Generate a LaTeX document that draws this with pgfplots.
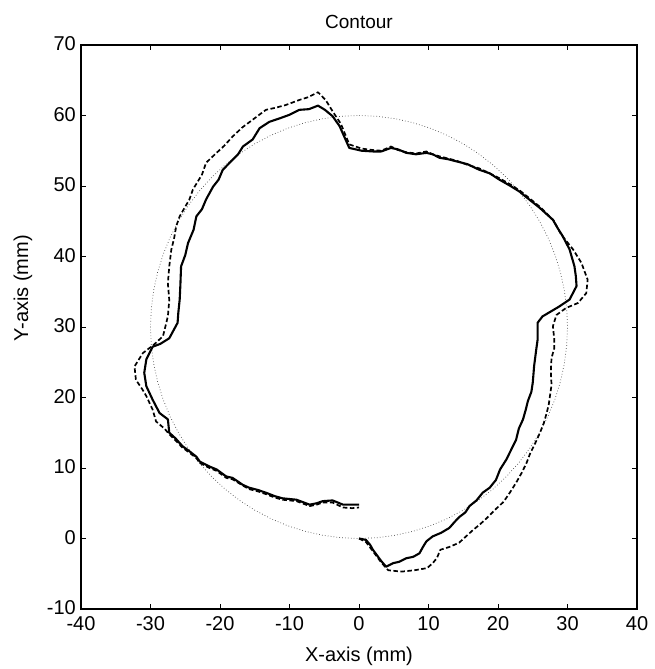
\documentclass[border=0pt]{standalone}
\usepackage{pgfplots}
\pgfplotsset{compat=1.18}
\usepackage{fontspec}
\setmainfont{Liberation Sans}

% measured contour (solid) 
\pgfplotstableread{
x y
0 0
1.0 -0.2
1.6 -0.9
2.0 -1.6
2.6 -2.4
3.2 -3.2
3.9 -4.0
4.9 -3.5
5.8 -3.3
6.8 -2.8
7.8 -2.6
8.7 -2.1
9.2 -1.2
9.7 -0.4
10.6 0.3
11.8 0.8
13.0 1.5
13.8 2.4
14.5 3.1
15.3 3.7
15.9 4.6
16.9 5.4
17.8 6.5
18.8 7.2
19.7 8.3
20.3 9.8
21.2 11.2
21.8 12.4
22.6 14.0
23.0 15.6
23.6 16.9
24.0 18.3
24.3 19.5
24.8 20.8
25.0 22.1
25.2 24.5
25.5 26.8
25.7 28.2
25.7 30.6
26.4 31.5
27.6 32.2
28.8 32.9
30.3 33.9
31.3 35.8
31.2 37.2
31.0 38.6
30.3 41.0
29.3 42.9
28.6 44.0
27.9 45.2
26.0 46.9
24.6 48.0
23.1 49.2
21.8 50.0
20.2 50.9
18.8 51.8
17.3 52.3
15.6 53.1
14.0 53.5
12.8 53.8
11.6 54.0
10.6 54.5
9.7 54.7
8.2 54.5
6.8 54.7
5.6 55.2
4.6 55.4
3.2 54.9
2.0 54.9
0.4 55.0
-1.4 55.4
-2.8 58.5
-3.8 59.9
-4.9 60.8
-5.9 61.4
-7.2 60.9
-8.6 60.8
-10.0 60.1
-11.4 59.6
-12.9 59.1
-14.3 58.2
-15.3 56.6
-16.7 55.6
-17.4 54.5
-18.2 53.7
-19.6 52.3
-20.2 50.9
-21.0 49.9
-22.0 48.1
-22.6 46.7
-23.4 45.7
-23.8 43.8
-24.6 41.9
-25.0 40.2
-25.6 38.6
-25.7 36.0
-25.8 33.9
-26.0 32.0
-26.1 30.6
-27.3 28.4
-28.6 27.6
-29.7 27.2
-30.6 25.4
-30.9 23.5
-30.6 21.6
-29.7 19.7
-28.7 17.8
-27.5 16.9
-27.3 15.0
-26.4 14.2
-25.4 13.1
-24.3 12.3
-23.4 11.6
-22.9 10.9
-21.5 10.2
-20.5 9.8
-19.1 8.8
-18.2 8.6
-16.7 7.6
-15.8 7.2
-14.6 6.9
-13.4 6.5
-12.1 6.0
-11.0 5.7
-9.0 5.5
-7.1 4.8
-6.1 5.0
-5.2 5.3
-3.8 5.4
-2.3 4.8
-1.0 4.8
0 4.8
}\solid

% measured contour (dashed)
\pgfplotstableread{
x y
0 0
1.0 -0.5
2.0 -1.8
3.2 -3.4
4.2 -4.5
6.1 -4.7
8.0 -4.5
9.8 -4.2
10.6 -3.5
11.2 -2.8
11.7 -1.6
13.0 -1.2
14.4 -0.6
15.4 0.3
16.4 1.2
17.4 2.0
18.5 3.0
19.6 4.1
20.8 5.2
21.7 6.5
22.6 7.9
23.4 9.3
24.1 10.7
24.6 12.0
25.3 13.4
26.0 14.9
26.6 16.4
27.0 17.8
27.3 19.0
27.5 20.4
27.7 21.8
27.6 23.7
27.7 25.6
28.1 27.0
28.1 28.2
27.9 30.1
28.4 31.7
29.8 32.7
31.5 33.4
32.7 34.8
32.9 36.7
32.0 39.1
30.8 41.0
29.1 43.1
28.0 45.1
26.2 46.9
24.6 48.2
23.2 49.3
21.8 50.2
20.2 51.1
18.8 51.8
17.3 52.5
15.6 53.0
14.0 53.6
12.8 53.9
11.6 54.2
10.6 54.5
9.7 54.9
8.2 54.6
6.8 54.8
5.6 55.1
4.6 55.6
3.2 55.0
2.0 55.1
0.4 55.3
-1.4 55.9
-2.6 58.8
-3.8 60.6
-4.8 62.2
-5.9 63.3
-7.3 62.6
-8.6 62.2
-10.5 61.5
-12.0 61.1
-13.4 60.8
-15.3 59.4
-16.8 58.3
-18.2 57.0
-19.4 55.7
-20.5 54.7
-22.0 53.3
-22.6 51.6
-23.9 49.5
-24.4 48.1
-25.8 45.7
-26.3 44.3
-26.6 42.6
-27.0 41.0
-27.3 38.6
-27.5 36.2
-27.3 33.8
-27.5 31.5
-28.2 28.7
-29.5 27.5
-31.1 26.3
-32.3 24.4
-32.1 22.5
-31.2 21.2
-30.6 20.2
-29.7 18.3
-29.2 16.6
-28.0 15.6
-27.3 14.8
-26.4 13.9
-25.4 12.9
-24.3 12.1
-23.4 11.4
-22.9 10.7
-21.5 10.0
-20.5 9.6
-19.1 8.6
-18.2 8.4
-16.7 7.5
-15.8 7.0
-14.6 6.7
-13.4 6.3
-12.1 5.8
-11.0 5.5
-9.0 5.3
-7.1 4.6
-6.1 4.8
-5.2 5.1
-3.8 5.1
-2.3 4.4
-1.0 4.3
0 4.4
}\dashedc

% nominal contour: circle of radius 30 about (0,30)
\pgfplotstableread{
x y
0 60
2.615 59.886
5.209 59.544
7.765 58.978
10.261 58.191
12.679 57.189
15 55.981
17.207 54.575
19.284 52.981
21.213 51.213
22.981 49.284
24.575 47.207
25.981 45
27.189 42.679
28.191 40.261
28.978 37.765
29.544 35.209
29.886 32.615
30 30
29.886 27.385
29.544 24.791
28.978 22.235
28.191 19.739
27.189 17.321
25.981 15
24.575 12.793
22.981 10.716
21.213 8.787
19.284 7.019
17.207 5.425
15 4.019
12.679 2.811
10.261 1.809
7.765 1.022
5.209 0.456
2.615 0.114
0 0
-2.615 0.114
-5.209 0.456
-7.765 1.022
-10.261 1.809
-12.679 2.811
-15 4.019
-17.207 5.425
-19.284 7.019
-21.213 8.787
-22.981 10.716
-24.575 12.793
-25.981 15
-27.189 17.321
-28.191 19.739
-28.978 22.235
-29.544 24.791
-29.886 27.385
-30 30
-29.886 32.615
-29.544 35.209
-28.978 37.765
-28.191 40.261
-27.189 42.679
-25.981 45
-24.575 47.207
-22.981 49.284
-21.213 51.213
-19.284 52.981
-17.207 54.575
-15 55.981
-12.679 57.189
-10.261 58.191
-7.765 58.978
-5.209 59.544
-2.615 59.886
0 60
}\circ

\begin{document}
\begin{tikzpicture}
\begin{axis}[
  scale only axis,
  width=556pt, height=564pt,
  xmin=-40, xmax=40, ymin=-10, ymax=70,
  xtick={-40,-30,...,40},
  ytick={-10,0,...,70},
  tick align=inside,
  major tick length=5pt,
  axis line style={line width=1.4pt},
  tick style={line width=0.9pt, black},
  /pgf/number format/assume math mode=true,
  ticklabel style={font=\fontsize{20}{24}\selectfont},
  xticklabel style={inner sep=5pt, yshift=-2pt},
  yticklabel style={inner sep=5pt, yshift=1pt},
  label style={font=\fontsize{20}{24}\selectfont},
  title={Contour},
  title style={font=\fontsize{19}{23}\selectfont, at={(axis description cs:0.5,1)}, anchor=base, yshift=10pt},
  xlabel={X-axis (mm)},
  xlabel style={at={(axis description cs:0.5,0)}, anchor=base, yshift=-52pt},
  ylabel={Y-axis (mm)},
  ylabel style={at={([xshift=-53pt]axis description cs:0,0.569)}, anchor=base},
  clip=true,
]
\addplot[black!70, line width=0.7pt, dash pattern=on 0.7pt off 2.2pt] table {\circ};
\addplot[black, line width=1.7pt, dash pattern=on 4.5pt off 2.5pt, line join=round] table {\dashedc};
\addplot[black, line width=2.1pt, line join=round] table {\solid};
\end{axis}
\useasboundingbox ([shift={(-81pt,-60pt)}]current axis.south west) rectangle ([shift={(17pt,45pt)}]current axis.north east);
\end{tikzpicture}
\end{document}
